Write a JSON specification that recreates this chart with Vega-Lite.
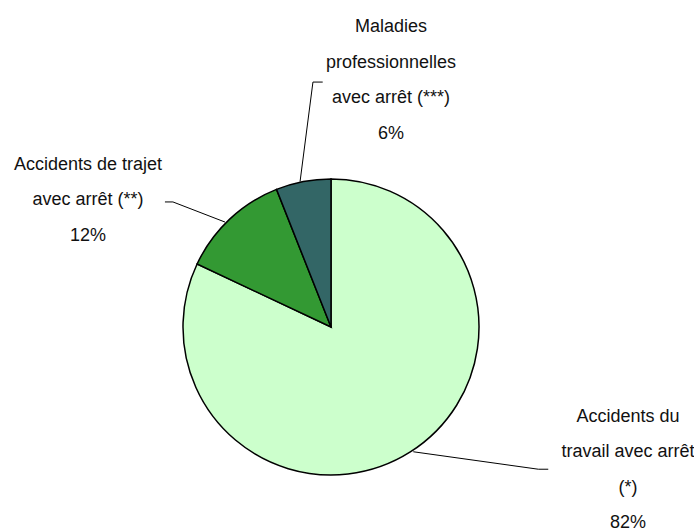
{
  "$schema": "https://vega.github.io/schema/vega-lite/v6.json",
  "width": 694,
  "height": 529,
  "autosize": {"type": "none"},
  "padding": 0,
  "background": "white",
  "config": {"view": {"stroke": null}},
  "datasets": {
    "parts": [
      {"categorie": "Accidents du travail avec arrêt (*)", "part": 82},
      {"categorie": "Accidents de trajet avec arrêt (**)", "part": 12},
      {"categorie": "Maladies professionnelles avec arrêt (***)", "part": 6}
    ],
    "labels": [
      {"categorie": "Accidents du travail avec arrêt (*)", "texte": "Accidents du\ntravail avec arrêt\n(*)\n82%", "lx": 2.007, "ly": -0.608},
      {"categorie": "Accidents de trajet avec arrêt (**)", "texte": "Accidents de trajet\navec arrêt (**)\n12%", "lx": -1.642, "ly": 1.095},
      {"categorie": "Maladies professionnelles avec arrêt (***)", "texte": "Maladies\nprofessionnelles\navec arrêt (***)\n6%", "lx": 0.405, "ly": 2.027}
    ],
    "leaders": [
      {"categorie": "travail", "pt": 1, "px": 0.556, "py": -0.843},
      {"categorie": "travail", "pt": 2, "px": 1.401, "py": -0.961},
      {"categorie": "travail", "pt": 3, "px": 1.468, "py": -0.961},
      {"categorie": "trajet", "pt": 1, "px": -0.716, "py": 0.709},
      {"categorie": "trajet", "pt": 2, "px": -1.068, "py": 0.845},
      {"categorie": "trajet", "pt": 3, "px": -1.122, "py": 0.845},
      {"categorie": "maladies", "pt": 1, "px": -0.209, "py": 0.983},
      {"categorie": "maladies", "pt": 2, "px": -0.122, "py": 1.655},
      {"categorie": "maladies", "pt": 3, "px": -0.056, "py": 1.655}
    ]
  },
  "layer": [
    {
      "data": {"name": "parts"},
      "mark": {"type": "arc", "outerRadius": 148, "stroke": "black", "strokeWidth": 1.5},
      "encoding": {
        "x": {"datum": 0, "type": "quantitative", "scale": {"domain": [-2.2365, 2.4527], "nice": false, "zero": false}, "axis": null},
        "y": {"datum": 0, "type": "quantitative", "scale": {"domain": [-1.3649, 2.2095], "nice": false, "zero": false}, "axis": null},
        "theta": {"field": "part", "type": "quantitative", "stack": true},
        "order": {"field": "part", "sort": "descending"},
        "color": {
          "field": "categorie",
          "type": "nominal",
          "scale": {
            "domain": ["Accidents du travail avec arrêt (*)", "Accidents de trajet avec arrêt (**)", "Maladies professionnelles avec arrêt (***)"],
            "range": ["#CCFFCC", "#339933", "#336666"]
          },
          "legend": null
        }
      }
    },
    {
      "data": {"name": "leaders"},
      "mark": {"type": "line", "color": "black", "strokeWidth": 1},
      "encoding": {
        "x": {"field": "px", "type": "quantitative"},
        "y": {"field": "py", "type": "quantitative"},
        "detail": {"field": "categorie"},
        "order": {"field": "pt", "type": "quantitative"}
      }
    },
    {
      "data": {"name": "labels"},
      "mark": {"type": "text", "lineBreak": "\n", "font": "Liberation Sans", "fontSize": 18, "lineHeight": 35.5, "align": "center", "baseline": "middle", "color": "#111111"},
      "encoding": {
        "x": {"field": "lx", "type": "quantitative"},
        "y": {"field": "ly", "type": "quantitative"},
        "text": {"field": "texte"}
      }
    }
  ]
}
